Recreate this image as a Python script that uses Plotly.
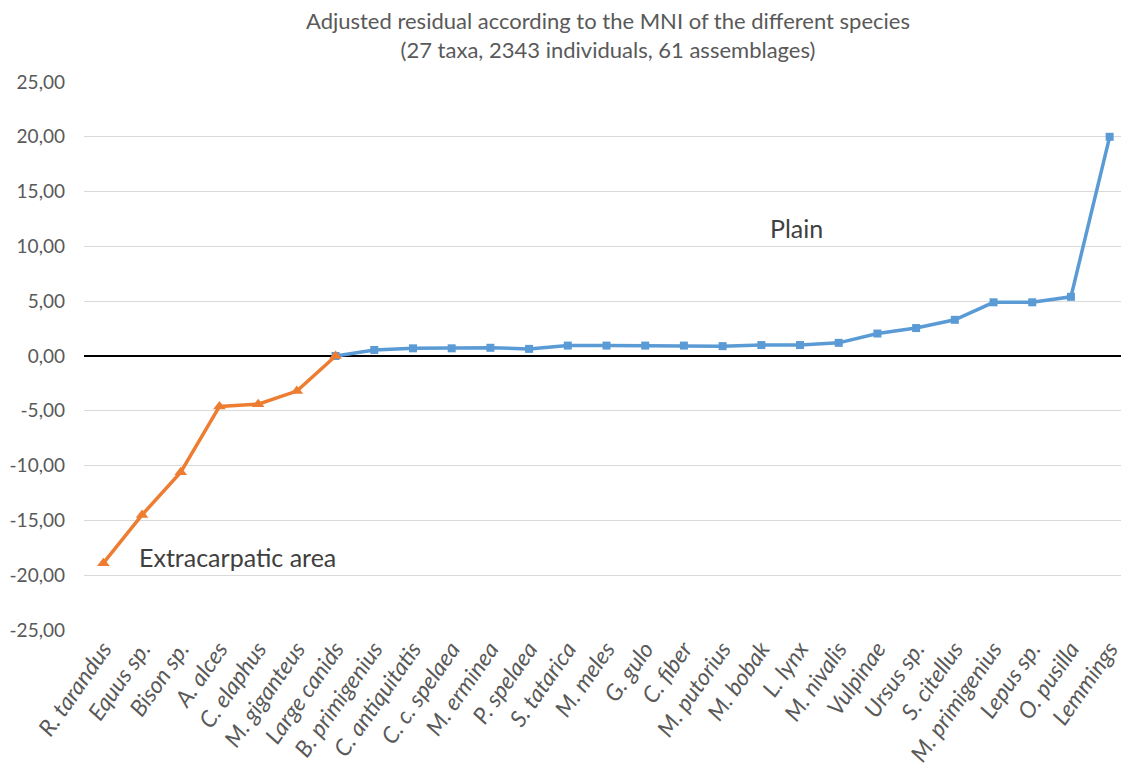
import plotly.graph_objects as go

categories = ["R. tarandus", "Equus sp.", "Bison sp.", "A. alces", "C. elaphus", "M. giganteus",
              "Large canids", "B. primigenius", "C. antiquitatis", "C. c. spelaea", "M. erminea",
              "P. spelaea", "S. tatarica", "M. meles", "G. gulo", "C. fiber", "M. putorius",
              "M. bobak", "L. lynx", "M. nivalis", "Vulpinae", "Ursus sp.", "S. citellus",
              "M. primigenius", "Lepus sp.", "O. pusilla", "Lemmings"]

extra_cats = categories[:7]
extra_vals = [-18.9, -14.5, -10.6, -4.6, -4.4, -3.2, 0.0]

plain_cats = categories[6:]
plain_vals = [0.0, 0.55, 0.7, 0.7, 0.75, 0.65, 0.95, 0.95, 0.95, 0.95, 0.9, 1.0, 1.0, 1.2,
              2.05, 2.55, 3.3, 4.9, 4.9, 5.4, 20.0]

y_ticks = [25, 20, 15, 10, 5, 0, -5, -10, -15, -20, -25]
y_tick_labels = ["25,00", "20,00", "15,00", "10,00", "5,00", "0,00", "-5,00", "-10,00",
                 "-15,00", "-20,00", "-25,00"]

title_text = ("Adjusted residual according to the MNI of the different species<br>"
              "(27 taxa, 2343 individuals, 61 assemblages)")

FONT = "Lato"
GRAY = "#595959"

W, H = 1121, 774
L, R, T, B = 76, 0, 74, 152
PW, PH = W - L - R, H - T - B

fig = go.Figure()
fig.add_trace(go.Scatter(
    x=plain_cats, y=plain_vals, mode="lines+markers",
    line=dict(color="#5b9bd5", width=3.5),
    marker=dict(symbol="square", size=8, color="#5b9bd5"),
    showlegend=False))
fig.add_trace(go.Scatter(
    x=extra_cats, y=extra_vals, mode="lines+markers",
    line=dict(color="#ed7d31", width=3.5),
    marker=dict(symbol="triangle-up", size=11, color="#ed7d31"),
    showlegend=False))

# title as an annotation (multi-line centred above the plot)
fig.add_annotation(x=(600 - L) / PW, xref="paper", y=1 + (T - 27) / PH, yref="paper",
                   text=title_text, showarrow=False, xanchor="center", yanchor="middle",
                   font=dict(family=FONT, size=22, color=GRAY))
fig.add_annotation(x=(788 - L) / PW, xref="paper", y=11.7, yref="y", text="Plain",
                   showarrow=False, xanchor="center", yanchor="middle",
                   font=dict(family=FONT, size=25, color="#404040"))
fig.add_annotation(x=(129 - L) / PW, xref="paper", y=-18.35, yref="y", text="Extracarpatic area",
                   showarrow=False, xanchor="left", yanchor="middle",
                   font=dict(family=FONT, size=25, color="#404040"))

fig.update_layout(
    width=W, height=H,
    paper_bgcolor="white", plot_bgcolor="white",
    margin=dict(l=L, r=R, t=T, b=B, autoexpand=False),
    font=dict(family=FONT, color=GRAY),
    xaxis=dict(type="category", categoryorder="array", categoryarray=categories,
               range=[-0.5, 26.5], showgrid=False, showline=False, ticks="",
               automargin=False,
               tickangle=-55, tickfont=dict(family=FONT, size=23, color=GRAY, style="italic")),
    yaxis=dict(range=[-25, 25], tickvals=y_ticks, ticktext=y_tick_labels,
               showgrid=True, gridcolor="#d9d9d9", gridwidth=1,
               zeroline=True, zerolinecolor="black", zerolinewidth=1.5,
               automargin=False, ticklabelstandoff=18,
               showline=False, ticks="", tickfont=dict(family=FONT, size=19, color=GRAY)),
)

fig.write_html("out.html")
